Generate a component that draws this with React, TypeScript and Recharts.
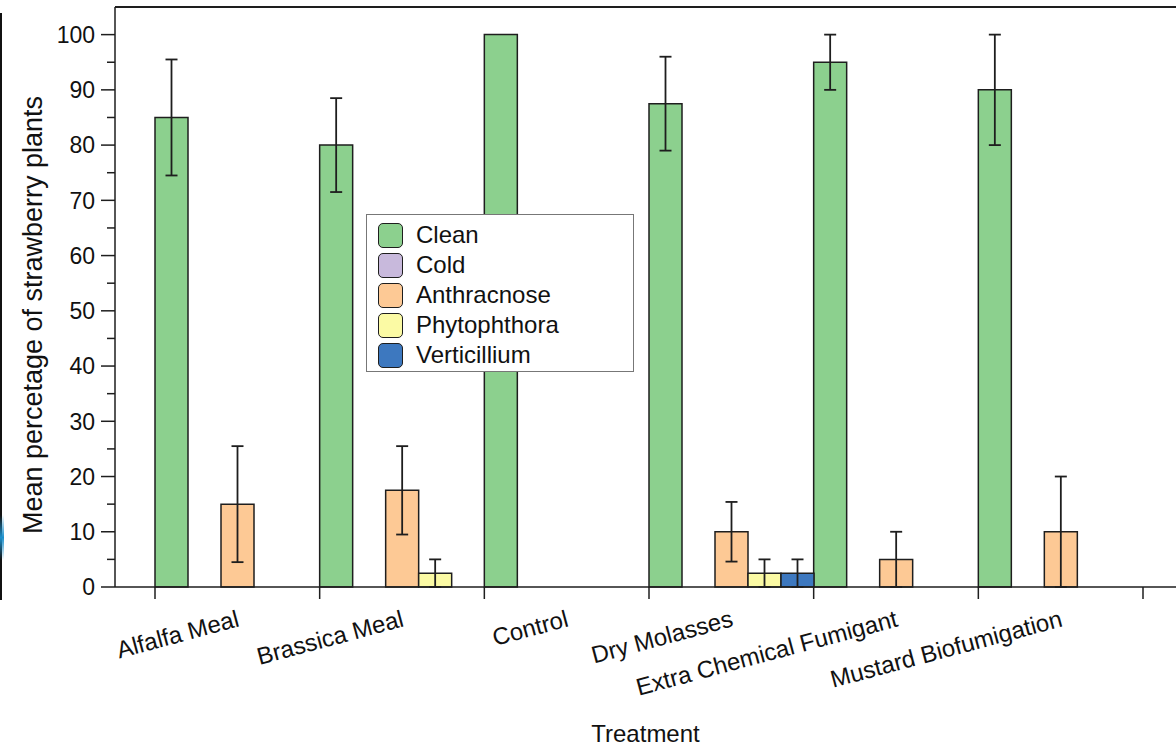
import React from "react";
import {
  BarChart,
  Bar,
  XAxis,
  YAxis,
  ErrorBar,
  Legend,
  ReferenceLine,
} from "recharts";

// treatments on the x axis
const TREATMENTS = [
  "Alfalfa Meal",
  "Brassica Meal",
  "Control",
  "Dry Molasses",
  "Extra Chemical Fumigant",
  "Mustard Biofumigation",
];

// mean % per condition, null = no bar
const CLEAN = [85, 80, 100, 87.5, 95, 90];
const CLEAN_ERR = [10.5, 8.5, 0, 8.5, 5, 10];
const COLD: (number | null)[] = [null, null, null, null, null, null];
const COLD_ERR: (number | null)[] = [null, null, null, null, null, null];
const ANTHRACNOSE = [15, 17.5, null, 10, 5, 10];
const ANTHRACNOSE_ERR = [10.5, 8, null, 5.4, 5, 10];
const PHYTOPHTHORA = [null, 2.5, null, 2.5, null, null];
const PHYTOPHTHORA_ERR = [null, 2.5, null, 2.5, null, null];
const VERTICILLIUM = [null, null, null, 2.5, null, null];
const VERTICILLIUM_ERR = [null, null, null, 2.5, null, null];

const Y_TICKS = [0, 5, 10, 15, 20, 25, 30, 35, 40, 45, 50, 55, 60, 65, 70, 75, 80, 85, 90, 95, 100];

const SERIES = [
  { key: "clean", name: "Clean", color: "#8cd08e", values: CLEAN, err: CLEAN_ERR },
  { key: "cold", name: "Cold", color: "#c8b9dc", values: COLD, err: COLD_ERR },
  { key: "anthracnose", name: "Anthracnose", color: "#fdc995", values: ANTHRACNOSE, err: ANTHRACNOSE_ERR },
  { key: "phytophthora", name: "Phytophthora", color: "#fbfaa4", values: PHYTOPHTHORA, err: PHYTOPHTHORA_ERR },
  { key: "verticillium", name: "Verticillium", color: "#3d78bf", values: VERTICILLIUM, err: VERTICILLIUM_ERR },
];

const FONT = '"Liberation Sans", Arial, Helvetica, sans-serif';
const INK = "#1e1e1e";

const data = TREATMENTS.map((name, i) => {
  const row: Record<string, string | number | null> = { name };
  SERIES.forEach((s) => {
    row[s.key] = s.values[i];
    row[s.key + "Err"] = s.err[i];
  });
  return row;
});

// width of one treatment band (plot width minus paddings, / 6)
const BAND = (1061 - 40 - 33) / TREATMENTS.length;

function XTick(props: any) {
  const { x, y, payload, index } = props;
  const left = x - BAND / 2;
  const ax = x + 3;
  const ay = y + 39;
  return (
    <g>
      <line x1={left} y1={y} x2={left} y2={y + 12} stroke={INK} strokeWidth={1.5} />
      {index === TREATMENTS.length - 1 && (
        <line x1={x + BAND / 2} y1={y} x2={x + BAND / 2} y2={y + 12} stroke={INK} strokeWidth={1.5} />
      )}
      <text
        x={ax}
        y={ay}
        textAnchor="end"
        transform={`rotate(-15, ${ax}, ${ay})`}
        fontSize={24}
        fontFamily={FONT}
        fill="#111"
      >
        {payload.value}
      </text>
    </g>
  );
}

function YTick(props: any) {
  const { x, y, payload } = props;
  const major = payload.value % 10 === 0;
  return (
    <g>
      <line x1={x - (major ? 14 : 8)} y1={y} x2={x} y2={y} stroke={INK} strokeWidth={1.5} />
      {major && (
        <text x={x - 20} y={y} dy="0.36em" textAnchor="end" fontSize={23} fontFamily={FONT} fill="#111">
          {payload.value}
        </text>
      )}
    </g>
  );
}

function LegendBox() {
  return (
    <div
      style={{
        width: 268,
        height: 158,
        boxSizing: "border-box",
        border: "1px solid #777",
        background: "#fff",
        padding: "5px 0 0 11px",
        fontFamily: FONT,
        fontSize: 24,
        color: "#111",
      }}
    >
      {SERIES.map((s) => (
        <div key={s.key} style={{ display: "flex", alignItems: "center", height: 30 }}>
          <div
            style={{
              width: 25,
              height: 25,
              boxSizing: "border-box",
              borderRadius: 5,
              border: `1.5px solid ${INK}`,
              background: s.color,
              marginRight: 13,
            }}
          />
          <span style={{ lineHeight: "30px" }}>{s.name}</span>
        </div>
      ))}
    </div>
  );
}

export default function App() {
  return (
    <div style={{ position: "absolute", left: 0, top: 0, width: 1176, height: 749, background: "#fff" }}>
      <div style={{ position: "absolute", left: 0, top: 13, width: 2, height: 587, background: "#111" }} />
      <div
        style={{
          position: "absolute",
          left: 0,
          top: 515,
          width: 4,
          height: 45,
          background: "linear-gradient(#ffffff00, #1b8fcb, #ffffff00)",
        }}
      />
      <BarChart
        width={1176}
        height={749}
        data={data}
        margin={{ top: 7, right: 0, bottom: 0, left: 0 }}
        barCategoryGap={0}
        barGap={0}
      >
        <XAxis
          dataKey="name"
          height={162}
          interval={0}
          padding={{ left: 40, right: 33 }}
          tickLine={false}
          tickSize={0}
          tickMargin={0}
          tick={<XTick />}
          axisLine={{ stroke: INK, strokeWidth: 1.5 }}
          label={{
            value: "Treatment",
            position: "insideBottom",
            offset: 7,
            fontSize: 24,
            fontFamily: FONT,
            fill: "#111",
          }}
        />
        <YAxis
          width={115}
          domain={[0, 105]}
          ticks={Y_TICKS}
          interval={0}
          tickLine={false}
          tickSize={0}
          tickMargin={0}
          tick={<YTick />}
          axisLine={{ stroke: INK, strokeWidth: 1.5 }}
          label={{
            value: "Mean percetage of strawberry plants",
            angle: -90,
            position: "insideLeft",
            offset: 32,
            dy: 18,
            fontSize: 27,
            fontFamily: FONT,
            fill: "#111",
            textAnchor: "middle",
          }}
        />
        <ReferenceLine y={105} stroke={INK} strokeWidth={2} />
        <Legend
          content={<LegendBox />}
          layout="horizontal"
          verticalAlign="middle"
          align="center"
          wrapperStyle={{ left: 366, top: 214, width: 268, height: 158 }}
        />
        {SERIES.map((s) => (
          <Bar
            key={s.key}
            dataKey={s.key}
            name={s.name}
            fill={s.color}
            stroke={INK}
            strokeWidth={1.5}
            isAnimationActive={false}
          >
            <ErrorBar dataKey={s.key + "Err"} direction="y" width={6} stroke={INK} strokeWidth={1.8} />
          </Bar>
        ))}
      </BarChart>
    </div>
  );
}
